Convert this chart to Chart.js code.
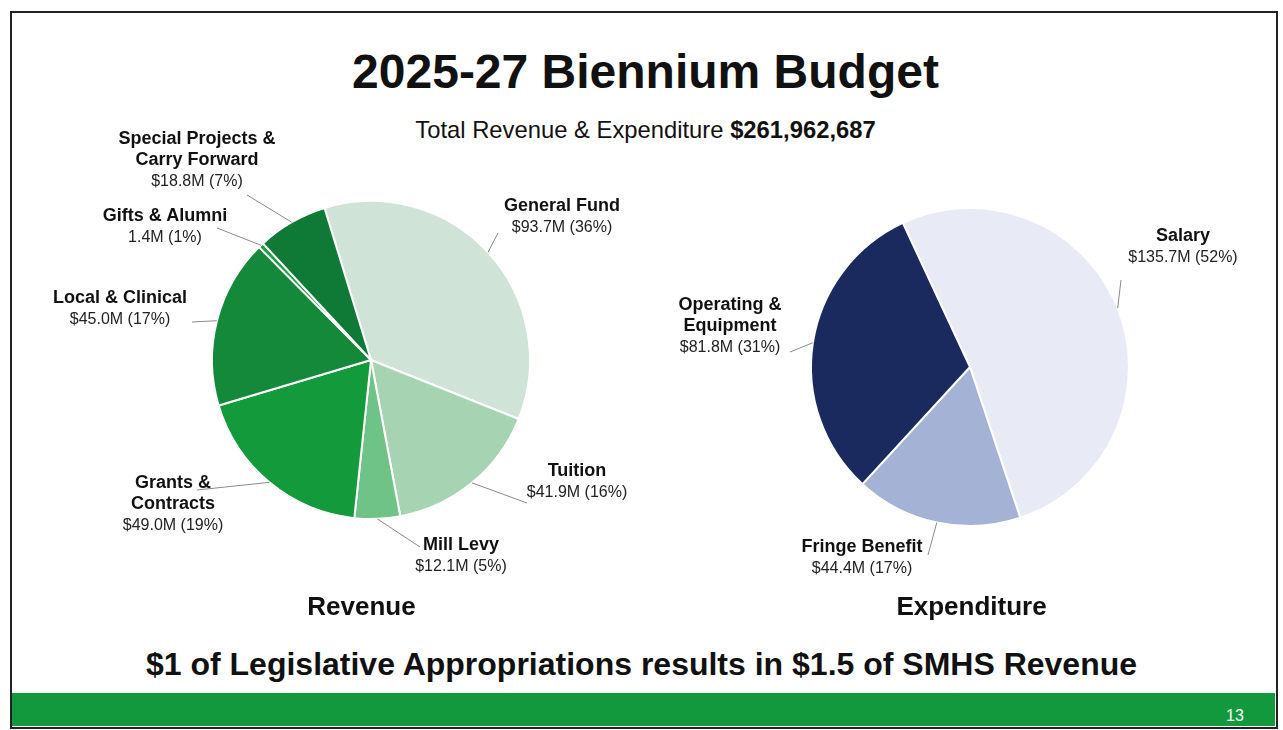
<!DOCTYPE html>
<html>
<head>
<meta charset="utf-8">
<script src="https://cdn.jsdelivr.net/npm/chart.js@4.4.1/dist/chart.umd.min.js"></script>
<style>
  body { margin: 0; background: #fff; font-family: "Liberation Sans", Arial, sans-serif; color: #111; }
  #slide { position: relative; width: 1283px; height: 730px; overflow: hidden; background: #fff; }
  #frame { position: absolute; left: 10px; top: 11px; width: 1264px; height: 714px; border: 2px solid #222; }
  #bar { position: absolute; left: 12px; top: 693px; width: 1263px; height: 33px; background: #12983d; }
  #pageNo { position: absolute; left: 1220px; top: 707px; width: 30px; text-align: center; color: #fff; font-size: 16px; }
  .title { position: absolute; left: 0; width: 1283px; text-align: center; }
  canvas { position: absolute; }
  .lbl { position: absolute; text-align: center; line-height: 21px; white-space: nowrap; transform: translateX(-50%); }
  .lbl b { font-size: 18px; }
  .lbl span { font-size: 16px; color: #222; }
</style>
</head>
<body>
<div id="slide">
  <div id="frame"></div>
  <div class="title" style="top:44px;font-size:48px;font-weight:bold;left:4px;">2025-27 Biennium Budget</div>
  <div class="title" style="top:116px;font-size:23.8px;left:4px;">Total Revenue &amp; Expenditure <b>$261,962,687</b></div>
  <canvas id="revChart" style="left:0;top:100px;" width="640" height="500"></canvas>
  <canvas id="expChart" style="left:640px;top:100px;" width="640" height="500"></canvas>
  <div class="title" style="top:591px;left:-280px;font-size:26px;font-weight:bold;">Revenue</div>
  <div class="title" style="top:591px;left:330px;font-size:26px;font-weight:bold;">Expenditure</div>
  <div class="title" style="top:646px;font-size:32px;font-weight:bold;">$1 of Legislative Appropriations results in $1.5 of SMHS Revenue</div>
  <div id="bar"></div>
  <div id="pageNo">13</div>
</div>
<script>
// revenue, $M, clockwise from the top
const revCategories = ['General Fund', 'Tuition', 'Mill Levy', 'Grants & Contracts', 'Local & Clinical', 'Gifts & Alumni', 'Special Projects & Carry Forward'];
const revValues = [93.7, 41.9, 12.1, 49.0, 45.0, 1.4, 18.8];
const revNameLines = [['General Fund'], ['Tuition'], ['Mill Levy'], ['Grants &', 'Contracts'], ['Local & Clinical'], ['Gifts & Alumni'], ['Special Projects &', 'Carry Forward']];
const revValueLabels = ['$93.7M (36%)', '$41.9M (16%)', '$12.1M (5%)', '$49.0M (19%)', '$45.0M (17%)', '1.4M (1%)', '$18.8M (7%)'];
const revColors = ['#cfe3d6', '#a6d4b2', '#70c387', '#129a3b', '#14893a', '#1c9e45', '#0f7a35'];

// expenditure, $M
const expCategories = ['Salary', 'Fringe Benefit', 'Operating & Equipment'];
const expValues = [135.7, 44.4, 81.8];
const expNameLines = [['Salary'], ['Fringe Benefit'], ['Operating &', 'Equipment']];
const expValueLabels = ['$135.7M (52%)', '$44.4M (17%)', '$81.8M (31%)'];
const expColors = ['#e8ebf6', '#a4b2d6', '#1b2a5e'];

// label placement on the slide (center x, top y) and where each leader line ends
const revLabelPos = [[562, 195], [577, 460], [461, 534], [173, 472], [120, 287], [165, 205], [197, 128]];
const revLeaderEnds = [[498, 233], [527, 503], [420, 547], [197, 490], [192, 322], [217, 228], [247, 195]];
const expLabelPos = [[1183, 225], [862, 536], [730, 294]];
const expLeaderEnds = [[1121, 280], [928, 555], [790, 352]];

// draws gray leader lines from the middle of each slice rim to its label
const leaderLines = {
  id: 'leaderLines',
  afterDatasetsDraw(chart, args, opts) {
    const ctx = chart.ctx;
    const arcs = chart.getDatasetMeta(0).data;
    ctx.save();
    ctx.strokeStyle = '#8a8a8a';
    ctx.lineWidth = 1;
    arcs.forEach((arc, i) => {
      const p = arc.getProps(['x', 'y', 'startAngle', 'endAngle', 'outerRadius'], true);
      const mid = (p.startAngle + p.endAngle) / 2;
      const sx = p.x + Math.cos(mid) * p.outerRadius;
      const sy = p.y + Math.sin(mid) * p.outerRadius;
      const end = opts.ends[i];
      ctx.beginPath();
      ctx.moveTo(sx, sy);
      ctx.lineTo(end[0] - opts.offX, end[1] - opts.offY);
      ctx.stroke();
    });
    ctx.restore();
  }
};

function makePie(id, labels, values, colors, rotation, padding, ends, offX, offY) {
  return new Chart(document.getElementById(id), {
    type: 'pie',
    data: {
      labels: labels,
      datasets: [{
        data: values,
        backgroundColor: colors,
        borderColor: '#ffffff',
        borderWidth: 2
      }]
    },
    options: {
      responsive: false,
      animation: false,
      rotation: rotation,
      layout: { padding: padding },
      plugins: {
        legend: { display: false },
        tooltip: { enabled: false },
        leaderLines: { ends: ends, offX: offX, offY: offY }
      }
    },
    plugins: [leaderLines]
  });
}

makePie('revChart', revCategories, revValues, revColors, -17,
  { left: 211, top: 100, right: 109, bottom: 80 }, revLeaderEnds, 0, 100);
makePie('expChart', expCategories, expValues, expColors, -25,
  { left: 170, top: 107, right: 150, bottom: 73 }, expLeaderEnds, 640, 100);

function addLabels(nameLines, valueLabels, positions) {
  const slide = document.getElementById('slide');
  nameLines.forEach((lines, i) => {
    const div = document.createElement('div');
    div.className = 'lbl';
    div.style.left = positions[i][0] + 'px';
    div.style.top = positions[i][1] + 'px';
    lines.forEach(t => {
      const b = document.createElement('b');
      b.textContent = t;
      div.appendChild(b);
      div.appendChild(document.createElement('br'));
    });
    const s = document.createElement('span');
    s.textContent = valueLabels[i];
    div.appendChild(s);
    slide.appendChild(div);
  });
}
addLabels(revNameLines, revValueLabels, revLabelPos);
addLabels(expNameLines, expValueLabels, expLabelPos);
</script>
</body>
</html>
